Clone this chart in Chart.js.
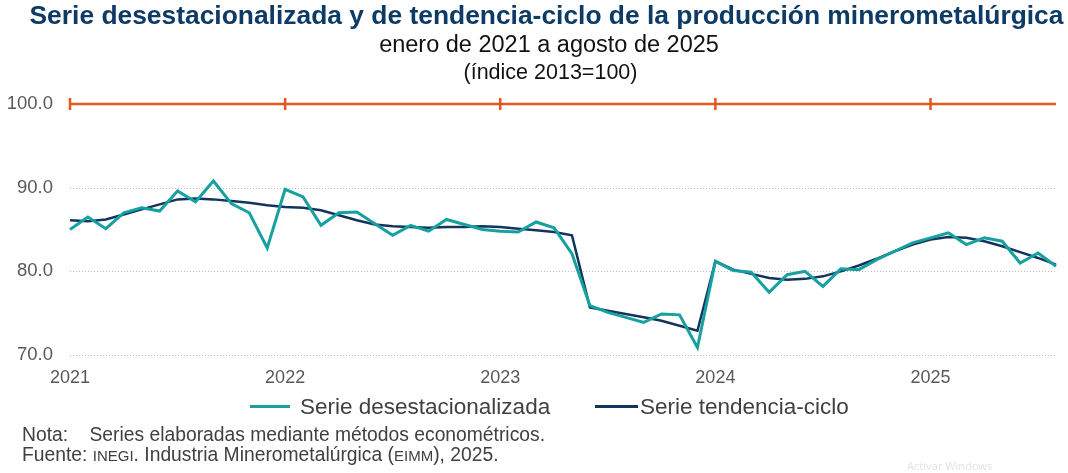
<!DOCTYPE html>
<html>
<head>
<meta charset="utf-8">
<script src="https://cdn.jsdelivr.net/npm/chart.js@4/dist/chart.umd.min.js"></script>
<style>
  html, body { margin: 0; padding: 0; background: #fff; }
  body { width: 1068px; height: 473px; position: relative; overflow: hidden; font-family: "Liberation Sans", Arial, sans-serif; }
  #mineChart { position: absolute; left: 0; top: 0; }
  .txt { position: absolute; white-space: nowrap; line-height: 1.15; }
  #title { left: 0; width: 1093px; text-align: center; top: 0px; font-size: 26.4px; font-weight: bold; color: #0E3A66; }
  #sub1 { left: 0; width: 1098px; text-align: center; top: 31px; font-size: 23.5px; color: #111; }
  #sub2 { left: 0; width: 1101px; text-align: center; top: 60px; font-size: 21.5px; color: #111; }
  .note { left: 22px; font-size: 19.3px; color: #404040; }
  .sc { font-size: 15px; }
  .legTxt { font-size: 22.5px; color: #404040; top: 394px; }
  .legLine { position: absolute; top: 405px; height: 3px; }
  #wm { left: 907px; top: 460px; font-size: 11px; color: #e4e4e4; font-family: "Noto Sans", sans-serif; }
</style>
</head>
<body>
<canvas id="mineChart" width="1068" height="473"></canvas>
<div class="txt" id="title">Serie desestacionalizada y de tendencia-ciclo de la producción minerometalúrgica</div>
<div class="txt" id="sub1">enero de 2021 a agosto de 2025</div>
<div class="txt" id="sub2">(índice 2013=100)</div>
<div id="legend"></div>
<div class="txt note" style="top:424px;">Nota:&nbsp;&nbsp;&nbsp;&nbsp;Series elaboradas mediante métodos econométricos.</div>
<div class="txt note" style="top:444px;">Fuente: <span class="sc">INEGI</span>. Industria Minerometalúrgica (<span class="sc">EIMM</span>), 2025.</div>
<div class="txt" id="wm">Activar Windows</div>
<script>
  // months: ene 2021 .. ago 2025
  var years = [2021, 2022, 2023, 2024, 2025];
  var monthNames = ["ene", "feb", "mar", "abr", "may", "jun", "jul", "ago", "sep", "oct", "nov", "dic"];
  var lastYearMonths = 8;

  var serieDesest = [
    85.0, 86.5, 85.1, 87.0, 87.6, 87.2, 89.6, 88.3, 90.8, 88.1, 87.0, 82.8,
    89.8, 88.9, 85.5, 87.0, 87.1, 85.7, 84.3, 85.5, 84.8, 86.2, 85.6, 85.0,
    84.8, 84.7, 85.9, 85.2, 82.1, 75.9, 75.1, 74.5, 73.9, 74.9, 74.8, 70.9,
    81.2, 80.1, 79.9, 77.5, 79.6, 80.0, 78.2, 80.3, 80.2, 81.4, 82.4, 83.4,
    84.0, 84.6, 83.2, 84.0, 83.6, 81.0, 82.2, 80.6
  ];
  var serieTendencia = [
    86.1, 86.0, 86.2, 86.8, 87.4, 88.0, 88.6, 88.7, 88.6, 88.4, 88.2, 87.9,
    87.7, 87.6, 87.3, 86.7, 86.1, 85.6, 85.4, 85.3, 85.2, 85.3, 85.3, 85.4,
    85.3, 85.1, 84.9, 84.7, 84.3, 75.7, 75.3, 74.9, 74.5, 74.1, 73.5, 72.9,
    81.2, 80.2, 79.7, 79.2, 79.0, 79.1, 79.4, 80.0, 80.7, 81.5, 82.4, 83.2,
    83.8, 84.1, 84.0, 83.6, 83.0, 82.3, 81.6, 80.8
  ];
  var yTicks = [70, 80, 90, 100];

  var labels = [];
  years.forEach((y, i) => {
    var n = (i == years.length - 1) ? lastYearMonths : 12;
    for (var m = 0; m < n; m++) labels.push(monthNames[m] + " " + y);
  });

  var tealColor = "#17A0A0";
  var navyColor = "#12355E";
  var orangeColor = "#E4571F";

  // dotted grid lines and the orange 100 line with year marks
  var gridPlugin = {
    id: "gridPlugin",
    beforeDatasetsDraw(chart) {
      var ctx = chart.ctx;
      var xs = chart.scales.x, ys = chart.scales.y;
      var left = chart.chartArea.left, right = chart.chartArea.right;
      ctx.save();
      ctx.strokeStyle = "#BDBDBD";
      ctx.lineWidth = 1;
      ctx.setLineDash([1, 2]);
      yTicks.slice(0, -1).forEach(v => {
        var py = Math.round(ys.getPixelForValue(v)) + 0.5;
        ctx.beginPath();
        ctx.moveTo(left, py);
        ctx.lineTo(right, py);
        ctx.stroke();
      });
      ctx.setLineDash([]);
      ctx.strokeStyle = orangeColor;
      ctx.lineWidth = 2.5;
      var top = ys.getPixelForValue(100);
      ctx.beginPath();
      ctx.moveTo(left, top);
      ctx.lineTo(right, top);
      ctx.stroke();
      years.forEach((y, i) => {
        var px = xs.getPixelForValue(i * 12);
        ctx.beginPath();
        ctx.moveTo(px, top - 6);
        ctx.lineTo(px, top + 6);
        ctx.stroke();
      });
      ctx.restore();
    }
  };

  var ctxMine = document.getElementById("mineChart").getContext("2d");
  var mineChart = new Chart(ctxMine, {
    type: "line",
    data: {
      labels: labels,
      datasets: [{
        label: "Serie desestacionalizada",
        data: serieDesest,
        borderColor: tealColor,
        backgroundColor: tealColor,
        borderWidth: 3,
        pointRadius: 0,
        tension: 0
      }, {
        label: "Serie tendencia-ciclo",
        data: serieTendencia,
        borderColor: navyColor,
        backgroundColor: navyColor,
        borderWidth: 2.5,
        pointRadius: 0,
        tension: 0
      }]
    },
    options: {
      responsive: false,
      animation: false,
      devicePixelRatio: 1,
      layout: { padding: { left: 7, right: 11, top: 104, bottom: 84 } },
      plugins: {
        title: { display: false },
        tooltip: { enabled: false },
        legend: { display: false }
      },
      scales: {
        x: {
          type: "category",
          offset: false,
          grid: { display: false, drawTicks: false },
          border: { display: false },
          afterFit: function(axis) { axis.height = 34; },
          ticks: {
            autoSkip: false,
            maxRotation: 0,
            padding: 12,
            color: "#595959",
            font: { family: "Liberation Sans", size: 18 },
            callback: function(v, i) { return (i % 12 == 0) ? String(years[i / 12]) : ""; }
          }
        },
        y: {
          min: 70,
          max: 100,
          grid: { display: false, drawTicks: false },
          border: { display: false },
          afterFit: function(axis) { axis.width = 63; },
          afterBuildTicks: function(axis) { axis.ticks = yTicks.map(v => ({ value: v })); },
          ticks: {
            padding: 17,
            color: "#595959",
            font: { family: "Liberation Sans", size: 18.5 },
            callback: function(v) { return Number(v).toFixed(1); }
          }
        }
      }
    },
    plugins: [gridPlugin]
  });

  // legend as page text, built from the datasets
  var legendPos = [{ line: 250, w: 40, text: 300 }, { line: 595, w: 43, text: 640 }];
  var legendBox = document.getElementById("legend");
  mineChart.data.datasets.forEach((ds, i) => {
    var p = legendPos[i];
    legendBox.insertAdjacentHTML("beforeend",
      `<div class="legLine" style="left:${p.line}px;width:${p.w}px;background:${ds.borderColor};"></div>` +
      `<div class="txt legTxt" style="left:${p.text}px;">${ds.label}</div>`);
  });
</script>
</body>
</html>
